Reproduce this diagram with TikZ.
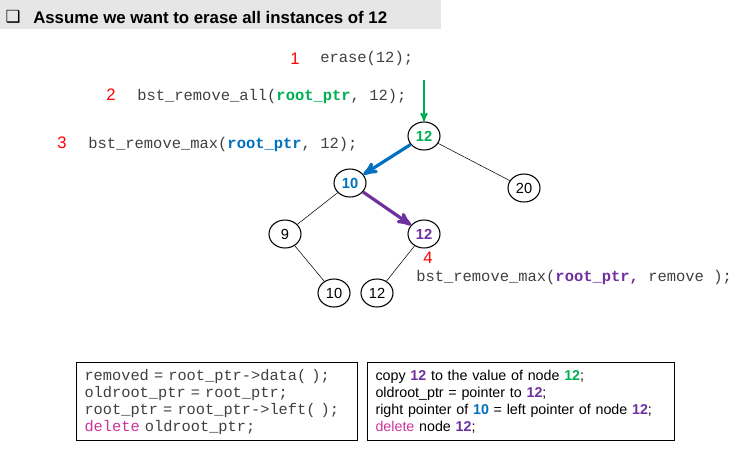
\documentclass[tikz,border=0pt]{standalone}
\usepackage{fontspec}
\setmainfont{Liberation Sans}
\setmonofont{Liberation Mono}
\newfontfamily\symfont{DejaVu Sans}
\usetikzlibrary{arrows,shapes.geometric}
\definecolor{rmgreen}{HTML}{00B050}
\definecolor{rmblue}{HTML}{0070C0}
\definecolor{rmpurple}{HTML}{7030A0}
\definecolor{rmpink}{HTML}{CC3399}
\definecolor{barfill}{HTML}{E6E6E6}
\tikzset{
  bstnode/.style = {ellipse, draw=black, thick, inner sep=0pt,
    minimum width=24pt, minimum height=21pt,
    font=\fontsize{11}{13}\selectfont},% a node of the tree
  hot/.style = {bstnode, font=\fontsize{11}{13}\selectfont\bfseries},% node in colour
  code/.style = {anchor=west, inner sep=0pt, text=black!75,
    font=\ttfamily\fontsize{11.6}{13}\selectfont},% one call
  stepno/.style = {red, inner sep=0pt, font=\fontsize{12.5}{14}\selectfont},% red number
  codebox/.style = {draw=black, thick, anchor=north west, align=left,
    minimum height=58.5pt, inner xsep=6pt},% box under the tree
  edge/.style = {draw=black, thin}
}
\newcommand{\bcol}[2]{\textcolor{#1}{\textbf{#2}}}

\begin{document}
\begin{tikzpicture}[x=0.75pt,y=-0.75pt,>=stealth']
  \useasboundingbox (0,0) rectangle (739,451);
  % title bar
  \fill[barfill] (0,0) rectangle (441,29);
  \node[inner sep=0pt] (box) at (13,17) {\symfont\fontsize{12.5}{14}\selectfont ❑};
  \node[anchor=west, inner sep=0pt, font=\fontsize{12.6}{15}\selectfont\bfseries]
    (title) at (33,17) {Assume we want to erase all instances of 12};

  % the calls
  \node[stepno] (n1) at (295,59) {1};
  \node[code] (c1) at (320,58) {erase(12);};
  \node[stepno] (n2) at (111,95) {2};
  \node[code] (c2) at (137,96) {bst\_remove\_all(\bcol{rmgreen}{root\_ptr}, 12);};
  \node[stepno] (n3) at (62,143) {3};
  \node[code] (c3) at (88,144) {bst\_remove\_max(\bcol{rmblue}{root\_ptr}, 12);};
  \node[stepno] (n4) at (428,258) {4};
  \node[code] (c4) at (416,277) {bst\_remove\_max(\bcol{rmpurple}{root\_ptr,} remove );};

  % the tree
  \node[hot, text=rmgreen] (r) at (424,136) {12};
  \node[hot, text=rmblue] (a) at (350,183) {10};
  \node[bstnode] (b) at (524,188) {20};
  \node[bstnode] (c) at (285,234) {9};
  \node[hot, text=rmpurple] (d) at (424,234) {12};
  \node[bstnode] (e) at (334,293) {10};
  \node[bstnode] (f) at (377,293) {12};
  \coordinate (top) at (424,80);

  \draw[->, rmgreen, line width=1.3pt] (top) -- (r);
  \draw[->, rmblue, line width=2.4pt] (r) -- (a);
  \draw[edge] (r) -- (b);
  \draw[edge] (a) -- (c);
  \draw[->, rmpurple, line width=2.4pt] (a) -- (d);
  \draw[edge] (c) -- (e);
  \draw[edge] (d) -- (f);

  % what is done
  \node[codebox, text width=198.75pt,
    font=\ttfamily\fontsize{11.5}{12.75}\selectfont, text=black!75]
    (left) at (76,362) {removed = root\_ptr->data( );\\
    oldroot\_ptr = root\_ptr;\\
    root\_ptr = root\_ptr->left( );\\
    \textcolor{rmpink}{delete} oldroot\_ptr;};
  \node[codebox, text width=218.25pt,
    font=\fontsize{10.7}{12.75}\selectfont]
    (right) at (367,362) {copy \bcol{rmpurple}{12} to the value of node \bcol{rmgreen}{12};\\
    oldroot\_ptr = pointer to \bcol{rmpurple}{12};\\
    right pointer of \bcol{rmblue}{10} = left pointer of node \bcol{rmpurple}{12};\\
    \textcolor{rmpink}{delete} node \bcol{rmpurple}{12};};
\end{tikzpicture}
\end{document}
